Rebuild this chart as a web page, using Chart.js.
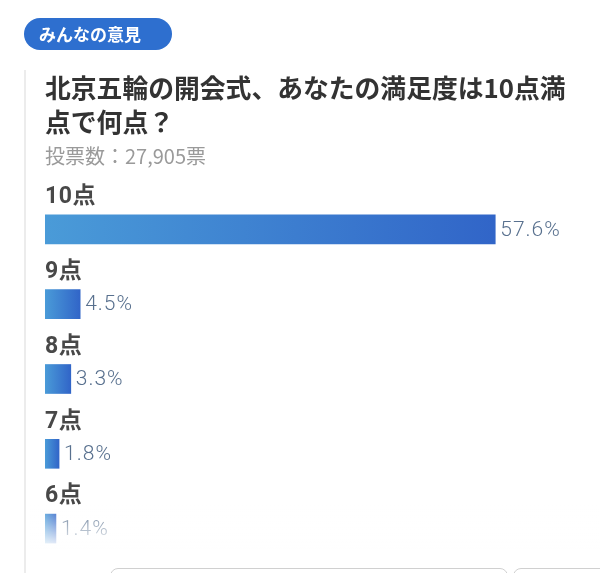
<!DOCTYPE html>
<html lang="ja">
<head>
<meta charset="utf-8">
<script src="https://cdn.jsdelivr.net/npm/chart.js@4"></script>
<style>
  html, body { margin: 0; padding: 0; background: #fff; }
  body { width: 600px; height: 573px; position: relative; overflow: hidden;
         font-family: "Noto Sans CJK JP", sans-serif; }
  #wrap { position: absolute; left: 0; top: 0; width: 600px; height: 573px; }
  .pill { position: absolute; left: 24px; top: 18px; width: 148px; height: 32px;
          background: #2e6fcf; border-radius: 16px; color: #fff; font-weight: bold;
          font-size: 17px; line-height: 32px; text-indent: 15px; }
  .rule { position: absolute; left: 24px; top: 70px; width: 2px; height: 510px; background: #ececec; }
  .title { position: absolute; left: 45px; top: 70px; width: 560px; color: #333;
           font-weight: bold; font-size: 25.8px; line-height: 34px; white-space: nowrap; }
  .votes { position: absolute; left: 45px; top: 141px; color: #9a9a9a; font-size: 20px; }
  .fade { position: absolute; left: 30px; top: 505px; width: 570px; height: 45px;
          background: linear-gradient(to bottom, rgba(255,255,255,0), #fff); }
  .btn { position: absolute; top: 568px; height: 40px; border: 1.5px solid #d0d0d0; border-radius: 8px; }
</style>
</head>
<body>
<div id="wrap"><canvas id="pollChart"></canvas></div>
<div class="pill">みんなの意見</div>
<div class="rule"></div>
<div class="title">北京五輪の開会式、あなたの満足度は10点満<br>点で何点？</div>
<div class="votes">投票数：27,905票</div>
<div class="fade"></div>
<div class="btn" style="left:110px;width:396px"></div>
<div class="btn" style="left:513px;width:100px"></div>

<script>
// 選択肢と割合（％）
const choices = ['10点', '9点', '8点', '7点', '6点'];
const percents = [57.6, 4.5, 3.3, 1.8, 1.4];

// バーごとのグラデーション（左が明るく右が濃い）
function barGradient(context) {
    const chart = context.chart;
    if (!chart.chartArea) return '#3f83d2';
    const x = chart.scales.x;
    const x0 = x.getPixelForValue(0);
    const x1 = x.getPixelForValue(context.raw);
    const g = chart.ctx.createLinearGradient(x0, 0, Math.max(x1, x0 + 1), 0);
    g.addColorStop(0, '#4a9bd8');
    g.addColorStop(1, '#3165c8');
    return g;
}

// 選択肢名をバーの上に、割合をバーの右に描く
const pollLabels = {
    id: 'pollLabels',
    afterDatasetsDraw(chart) {
        const ctx = chart.ctx;
        const meta = chart.getDatasetMeta(0);
        ctx.save();
        ctx.textBaseline = 'middle';
        ctx.textAlign = 'left';
        meta.data.forEach((bar, i) => {
            ctx.font = 'bold 23px Roboto, "Noto Sans CJK JP", sans-serif';
            ctx.fillStyle = '#484848';
            ctx.letterSpacing = '0.5px';
            ctx.fillText(choices[i], bar.base, bar.y - 32);

            ctx.font = '300 21px Roboto, "Noto Sans CJK JP", sans-serif';
            ctx.fillStyle = '#58708e';
            ctx.letterSpacing = '1px';
            ctx.fillText(percents[i].toFixed(1) + '%', bar.x + 5, bar.y + 1);
        });
        ctx.restore();
    }
};

const ctx = document.getElementById('pollChart').getContext('2d');
const pollChart = new Chart(ctx, {
    type: 'bar',
    data: {
        labels: choices,
        datasets: [{
            data: percents,
            backgroundColor: barGradient,
            borderWidth: 0,
            barThickness: 29
        }]
    },
    options: {
        indexAxis: 'y',
        responsive: true,
        maintainAspectRatio: false,
        animation: false,
        layout: { padding: { top: 192, bottom: 7, left: 45, right: 0 } },
        scales: {
            x: { display: false, min: 0, max: 71 },
            y: { display: false }
        },
        plugins: {
            legend: { display: false },
            tooltip: { enabled: false }
        }
    },
    plugins: [pollLabels]
});
</script>
</body>
</html>
